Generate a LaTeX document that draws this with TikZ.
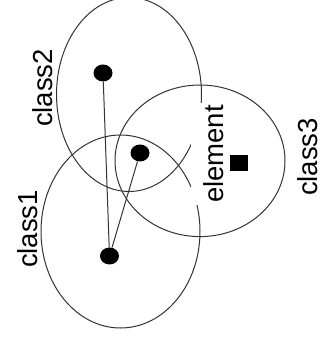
\documentclass[tikz,border=0pt]{standalone}
\usepackage{fontspec}
\setmainfont{Liberation Sans}
\usetikzlibrary{shapes.geometric}

\begin{document}
\begin{tikzpicture}[x=1pt,y=1pt,
  set/.style={draw=black!80,line width=1pt},
  lbl/.style={rotate=90,anchor=base,inner sep=0pt,font=\fontsize{27.5}{30}\selectfont},
  centre/.style={fill=black,ellipse,minimum width=19pt,minimum height=17pt,inner sep=0pt}
]
\useasboundingbox (0,0) rectangle (325,340);
% the three classes
\draw[set] (120.5,108.5) ellipse [x radius=79.5,y radius=96.5];
\draw[set] (129,245.5) ellipse [x radius=72.5,y radius=97];
\draw[set] (200,179.2) ellipse [x radius=85,y radius=75.8];
% labels
\node[lbl] (l1) at (37,111) {class1};
\node[lbl] (l2) at (52,252) {class2};
\node[lbl] (l3) at (317,183) {class3};
\node[lbl,fill=white,text height=32pt,text depth=1pt,inner xsep=2pt] (le) at (223,186) {element};
% centres and the element
\node[centre] (c1) at (109.5,84) {};
\node[centre] (c2) at (103,267) {};
\node[centre] (cm) at (140,187) {};
\node[fill=black,minimum width=18pt,minimum height=16pt,inner sep=0pt] (elem) at (238.5,176.5) {};
\draw[set] (c1) -- (c2);
\draw[set] (c1) -- (cm);
\end{tikzpicture}
\end{document}
